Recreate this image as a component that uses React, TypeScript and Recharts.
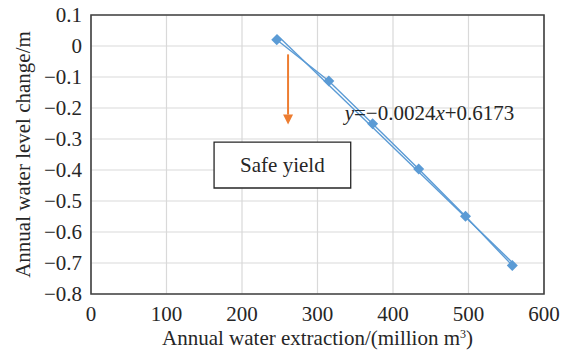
import {
  LineChart,
  Line,
  XAxis,
  YAxis,
  CartesianGrid,
  ReferenceArea,
  ReferenceLine,
  ReferenceDot,
  Label,
} from 'recharts'

const extraction = [246, 315, 373, 434, 496, 558]
const levelChange = [0.02, -0.113, -0.251, -0.397, -0.549, -0.708]
const trendX = [246, 558]
const trendY = [0.036, -0.698]
const xTicks = [0, 100, 200, 300, 400, 500, 600]
const yTicks = [0.1, 0, -0.1, -0.2, -0.3, -0.4, -0.5, -0.6, -0.7, -0.8]

const points = extraction.map((x, i) => ({ x, y: levelChange[i] }))
const trend = trendX.map((x, i) => ({ x, y: trendY[i] }))

const FONT = "'Liberation Serif', 'Times New Roman', serif"
const TEXT = '#262626'
const BLUE = '#5B9BD5'
const ORANGE = '#ED7D31'

if (typeof document !== 'undefined') document.body.style.margin = '0'

const fmtY = (v: number) => {
  if (Math.abs(v) < 1e-9) return '0'
  const s = Math.abs(v).toFixed(1)
  return v < 0 ? '\u2212' + s : s
}

const Diamond = (p: any) => {
  const { cx, cy, index } = p
  if (cx == null || cy == null) return null
  const r = 5.5
  return (
    <path
      key={'d' + index}
      d={`M${cx},${cy - r}L${cx + r},${cy}L${cx},${cy + r}L${cx - r},${cy}Z`}
      fill={BLUE}
    />
  )
}

const Arrow = (p: any) => {
  const { x1, y1, x2, y2 } = p
  return (
    <g>
      <line x1={x1} y1={y1} x2={x2} y2={y2 - 10} stroke={ORANGE} strokeWidth={2} />
      <polygon points={`${x2 - 5},${y2 - 10} ${x2 + 5},${y2 - 10} ${x2},${y2}`} fill={ORANGE} />
    </g>
  )
}

const Equation = (p: any) => (
  <text x={p.cx} y={p.cy} dy="0.35em" fontSize={21} fontFamily={FONT} fill={TEXT}>
    <tspan fontStyle="italic">y</tspan>
    <tspan>=−0.0024</tspan>
    <tspan fontStyle="italic">x</tspan>
    <tspan>+0.6173</tspan>
  </text>
)

export default function App() {
  return (
    <LineChart
      width={567}
      height={353}
      margin={{ top: 15, right: 23, bottom: 0, left: 11 }}
    >
      <CartesianGrid stroke="#d9d9d9" strokeWidth={1.2} />
      <XAxis
        type="number"
        dataKey="x"
        domain={[0, 600]}
        ticks={xTicks}
        height={59}
        axisLine={false}
        tickLine={false}
        tickMargin={6}
        tick={{ fontSize: 21, fill: TEXT, fontFamily: FONT }}
      >
        <Label
          content={(props: any) => {
            const vb = props.viewBox
            return (
              <text
                x={vb.x + vb.width / 2}
                y={vb.y + 51}
                textAnchor="middle"
                fontSize={21}
                fontFamily={FONT}
                fill={TEXT}
              >
                Annual water extraction/(million m
                <tspan fontSize={12} dy={-7}>3</tspan>
                <tspan dy={7}>)</tspan>
              </text>
            )
          }}
        />
      </XAxis>
      <YAxis
        type="number"
        domain={[-0.8, 0.1]}
        ticks={yTicks}
        width={80}
        axisLine={false}
        tickLine={false}
        tickMargin={3}
        tickFormatter={fmtY}
        tick={{ fontSize: 21, fill: TEXT, fontFamily: FONT }}
      >
        <Label
          content={(props: any) => {
            const vb = props.viewBox
            const cx = 23
            const cy = vb.y + vb.height / 2
            return (
              <text
                x={cx}
                y={cy}
                transform={`rotate(-90, ${cx}, ${cy})`}
                textAnchor="middle"
                dominantBaseline="central"
                fontSize={21}
                fontFamily={FONT}
                fill={TEXT}
              >
                Annual water level change/m
              </text>
            )
          }}
        />
      </YAxis>
      <ReferenceArea
        x1={0}
        x2={600}
        y1={-0.8}
        y2={0.1}
        fill="none"
        stroke="#404040"
        strokeWidth={1.6}
        fillOpacity={0}
        ifOverflow="visible"
      />
      <ReferenceArea
        x1={163}
        x2={344}
        y1={-0.458}
        y2={-0.31}
        fill="#ffffff"
        fillOpacity={1}
        stroke="#262626"
        strokeWidth={1.3}
        label={{ value: 'Safe yield', position: 'center', fontSize: 21, fontFamily: FONT, fill: TEXT }}
      />
      <ReferenceLine
        segment={[
          { x: 261, y: -0.027 },
          { x: 261, y: -0.2535 },
        ]}
        stroke={ORANGE}
        shape={Arrow}
      />
      <Line
        data={trend}
        dataKey="y"
        stroke={BLUE}
        strokeWidth={1.4}
        dot={false}
        activeDot={false}
        isAnimationActive={false}
      />
      <Line
        data={points}
        dataKey="y"
        stroke={BLUE}
        strokeWidth={1.4}
        dot={Diamond}
        activeDot={false}
        isAnimationActive={false}
      />
      <ReferenceDot x={336} y={-0.216} r={0} shape={Equation} />
    </LineChart>
  )
}
